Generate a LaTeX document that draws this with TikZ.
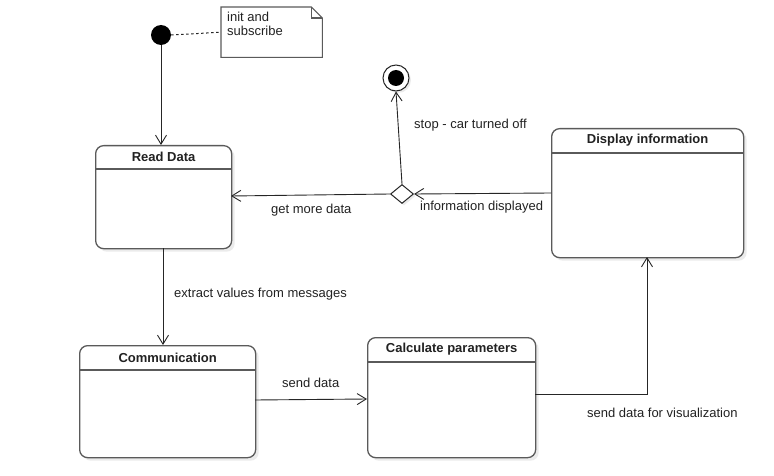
\documentclass[tikz,border=0pt]{standalone}
\usepackage{fontspec}
\setmainfont{Liberation Sans}
\usetikzlibrary{arrows.meta,shadows,shapes.geometric}
\definecolor{strk}{HTML}{5A5A5A}
\definecolor{txt}{HTML}{222222}
\tikzset{
  statebox/.style={draw=strk, line width=1.3pt, rounded corners=8pt, fill=white,
    drop shadow={shadow xshift=3pt, shadow yshift=-3pt, fill=black, opacity=0.08},
    inner sep=0pt, anchor=north west},
  hdr/.style={draw=strk, line width=1.3pt},
  ttl/.style={font=\fontsize{13}{15}\selectfont\bfseries, text=txt},
  lbl/.style={font=\fontsize{13}{15}\selectfont, text=txt, inner sep=0pt, anchor=west},
  flow/.style={draw=black!85, line width=0.9pt, -{Straight Barb[length=9pt,width=11pt,line width=0.9pt]}},
}
\begin{document}
\begin{tikzpicture}[x=1pt,y=-1pt]
\useasboundingbox[fill=white] (0,0) rectangle (774,476);
% initial state
\node[circle, fill=black, minimum size=20pt, inner sep=0pt] (init) at (161,35) {};
% note
\node[anchor=north west, minimum width=101pt, minimum height=50pt, inner sep=0pt] (note) at (221,7) {};
\draw[strk, line width=1.1pt, fill=white] (note.north west) -- ([xshift=-11pt]note.north east) -- ([yshift=-11pt]note.north east) -- (note.south east) -- (note.south west) -- cycle;
\draw[strk, line width=1.1pt] ([xshift=-11pt]note.north east) -- ([xshift=-11pt,yshift=-11pt]note.north east) -- ([yshift=-11pt]note.north east);
\node[lbl, anchor=north west, align=left, font=\fontsize{13}{14}\selectfont] (notetxt) at (227,12) {init and\\subscribe};
\draw[black!85, line width=1pt, dash pattern=on 2.5pt off 2.5pt] (init.east) -- (note.west);
% final state
\node[circle, draw=black!85, line width=1pt, fill=white, minimum size=26pt, inner sep=0pt,
  drop shadow={shadow xshift=2pt, shadow yshift=-2pt, fill=black, opacity=0.08}] (final) at (396,78) {};
\node[circle, fill=black, minimum size=16pt, inner sep=0pt] (finaldot) at (final.center) {};
% states
\node[statebox, minimum width=136pt, minimum height=103pt] (read) at (95,145) {};
\draw[hdr] ([yshift=-24pt]read.north west) -- ([yshift=-24pt]read.north east);
\node[ttl] (readt) at ([yshift=-12pt]read.north) {Read Data};

\node[statebox, minimum width=176pt, minimum height=112pt] (comm) at (79,345) {};
\draw[hdr] ([yshift=-25pt]comm.north west) -- ([yshift=-25pt]comm.north east);
\node[ttl] (commt) at ([yshift=-12.5pt]comm.north) {Communication};

\node[statebox, minimum width=168pt, minimum height=120pt] (calc) at (367,337) {};
\draw[hdr] ([yshift=-25pt]calc.north west) -- ([yshift=-25pt]calc.north east);
\node[ttl] (calct) at ([yshift=-12.5pt]calc.north) {Calculate parameters};

\node[statebox, minimum width=192pt, minimum height=129pt] (disp) at (551,128) {};
\draw[hdr] ([yshift=-25pt]disp.north west) -- ([yshift=-25pt]disp.north east);
\node[ttl] (dispt) at ([yshift=-12.5pt]disp.north) {Display information};

% decision
\node[diamond, draw=black!85, line width=1pt, fill=white, minimum width=23pt, minimum height=19pt, inner sep=0pt,
  drop shadow={shadow xshift=2pt, shadow yshift=-2pt, fill=black, opacity=0.08}] (dec) at (402,194) {};

% connectors
\draw[flow] (init.south) -- (read.north -| init.south);
\coordinate (readout) at (163,248);
\coordinate (commin) at (163,345);
\draw[flow] (readout) -- (commin);
\coordinate (commout) at (255,400);
\coordinate (calcin) at (367,399);
\draw[flow] (commout) -- (calcin);
\coordinate (calcout) at (535,394);
\coordinate (dispin) at (647,257);
\draw[flow] (calcout) -| (dispin);
\coordinate (dispout) at (551,193);
\draw[flow] (dispout) -- (dec.east);
\coordinate (readin) at (231,196);
\draw[flow] (dec.west) -- (readin);
\draw[flow] (dec.north) -- (final.south);

% labels
\node[lbl] (l1) at (174,294) {extract values from messages};
\node[lbl] (l2) at (282,383) {send data};
\node[lbl] (l3) at (587,413) {send data for visualization};
\node[lbl] (l4) at (420,207) {information displayed};
\node[lbl] (l5) at (271,210) {get more data};
\node[lbl] (l6) at (414,125) {stop - car turned off};
\end{tikzpicture}
\end{document}
